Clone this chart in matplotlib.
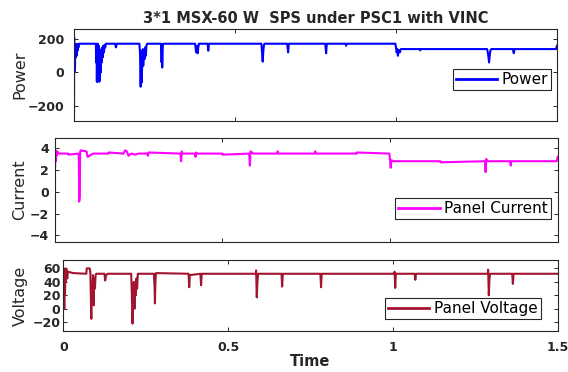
import matplotlib
matplotlib.use("Agg")
import matplotlib.pyplot as plt

# ---------------- data ----------------
power_t = [0.000, 0.0005, 0.001, 0.002, 0.003, 0.004, 0.005, 0.006, 0.008, 0.009, 0.011, 0.012, 0.014, 0.015,
           0.066, 0.068, 0.069, 0.070, 0.071, 0.072, 0.073, 0.074, 0.075, 0.077, 0.078, 0.079, 0.080, 0.082,
           0.083, 0.085, 0.086, 0.088, 0.089, 0.091, 0.093, 0.095, 0.097, 0.099,
           0.128, 0.130, 0.133,
           0.203, 0.205, 0.207, 0.209, 0.210, 0.212, 0.214, 0.215, 0.217, 0.219, 0.221, 0.223, 0.225, 0.227,
           0.271, 0.272, 0.273, 0.274, 0.275, 0.276, 0.278,
           0.376, 0.378, 0.380, 0.382, 0.384, 0.386, 0.388,
           0.415, 0.417, 0.419,
           0.582, 0.584, 0.586, 0.588, 0.590, 0.592,
           0.662, 0.664, 0.665, 0.667,
           0.780, 0.782, 0.783, 0.785,
           0.843, 0.845, 0.847,
           0.998, 1.000, 1.002, 1.004, 1.006, 1.008, 1.012, 1.015,
           1.073, 1.075, 1.077,
           1.283, 1.286, 1.288, 1.289, 1.291, 1.293, 1.296,
           1.363, 1.365, 1.366, 1.368,
           1.497, 1.4985, 1.500]
power_v = [-240, 210, 0, 170, 20, 170, 90, 170, 100, 170, 130, 170, 150, 172,
           172, 170, 60, 172, -55, 100, -55, 172, 20, 160, -55, 80, -50, 120,
           0, 140, 60, 150, 90, 160, 120, 165, 150, 172,
           172, 150, 172,
           172, 120, -85, 130, -60, 60, 140, 40, 130, 80, 150, 100, 160, 172,
           172, 60, 170, 30, 120, 165, 172,
           172, 140, 120, 160, 115, 150, 172,
           172, 130, 172,
           172, 120, 65, 130, 165, 172,
           172, 140, 120, 172,
           172, 140, 115, 172,
           172, 160, 172,
           172, 150, 120, 140, 100, 135, 120, 140,
           140, 132, 140,
           140, 110, 80, 60, 100, 130, 140,
           140, 120, 115, 140,
           140, 150, 160]

current_t = [0.000, 0.0005, 0.001, 0.002, 0.003, 0.004, 0.006, 0.008, 0.010,
             0.040, 0.041, 0.070, 0.072, 0.073, 0.0745, 0.076, 0.078, 0.085, 0.095, 0.098, 0.102, 0.108, 0.115,
             0.160, 0.161, 0.205, 0.210, 0.215, 0.220, 0.228, 0.240, 0.250, 0.276, 0.278, 0.280,
             0.375, 0.377, 0.379, 0.381, 0.418, 0.420, 0.422, 0.424,
             0.500, 0.501, 0.580, 0.582, 0.584, 0.588, 0.592,
             0.663, 0.665, 0.667, 0.775, 0.777, 0.779, 0.900, 0.901,
             0.998, 1.000, 1.002, 1.004, 1.010, 1.150, 1.151,
             1.283, 1.285, 1.287, 1.290, 1.358, 1.360, 1.362, 1.497, 1.500]
current_v = [-3.7, 3.8, 2.2, 3.8, 2.8, 3.7, 3.3, 3.7, 3.5,
             3.5, 3.4, 3.5, 3.3, -0.9, -0.5, 3.7, 3.8, 3.75, 3.7, 3.2, 3.25, 3.4, 3.5,
             3.5, 3.6, 3.5, 3.8, 3.7, 3.3, 3.5, 3.4, 3.5, 3.5, 3.3, 3.6,
             3.5, 2.8, 3.7, 3.5, 3.5, 3.2, 3.6, 3.5,
             3.5, 3.4, 3.5, 2.4, 3.7, 3.6, 3.5,
             3.5, 3.7, 3.5, 3.5, 3.7, 3.5, 3.5, 3.6,
             3.5, 2.9, 2.2, 2.9, 2.8, 2.8, 2.7,
             2.8, 1.8, 3.0, 2.8, 2.8, 2.4, 2.8, 2.8, 3.2]

voltage_t = [0.000, 0.001, 0.003, 0.004, 0.005, 0.007, 0.008, 0.010, 0.012, 0.014, 0.030, 0.070,
             0.071, 0.080, 0.082, 0.085, 0.086, 0.088, 0.090, 0.092, 0.094, 0.096, 0.098, 0.100,
             0.125, 0.127, 0.130, 0.135,
             0.206, 0.208, 0.210, 0.212, 0.214, 0.216, 0.218, 0.220, 0.222, 0.224, 0.226,
             0.275, 0.277, 0.278, 0.2795, 0.281,
             0.380, 0.382, 0.384, 0.416, 0.418, 0.420,
             0.584, 0.585, 0.587, 0.589, 0.591,
             0.662, 0.664, 0.666, 0.780, 0.782, 0.784,
             1.004, 1.005, 1.007, 1.009, 1.066, 1.068, 1.070,
             1.288, 1.289, 1.291, 1.293, 1.295, 1.362, 1.364, 1.366, 1.500]
voltage_v = [60, 58, 0, 55, 20, 60, 40, 58, 45, 55, 53, 52,
             60, 60, 55, -15, 40, 10, 50, 5, 45, 30, 50, 52,
             52, 42, 50, 52,
             52, 20, -22, 10, 40, 0, 35, 20, 45, 30, 52,
             52, 30, 8, 40, 53,
             52, 32, 50, 52, 35, 52,
             52, 57, 17, 40, 52,
             52, 33, 52, 52, 32, 52,
             52, 55, 31, 52, 52, 43, 52,
             52, 58, 20, 45, 52, 52, 37, 52, 52]

title_text = "3*1 MSX-60 W  SPS under PSC1 with VINC"
x_ticks = [0, 0.5, 1, 1.5]
x_ticklabels = ["0", "0.5", "1", "1.5"]
power_ticks = [-200, 0, 200]
current_ticks = [-4, -2, 0, 2, 4]
voltage_ticks = [-20, 0, 20, 40, 60]

# ---------------- figure ----------------
plt.rcParams['font.family'] = ['DejaVu Sans']
W, H = 568, 372
fig = plt.figure(figsize=(W / 100, H / 100), dpi=100)

def fx(px):
    return px / W

def fy(py):
    return 1 - py / H

axc = '#262626'

def make_axes(l, r, t, b):
    return fig.add_axes([fx(l), fy(b), fx(r) - fx(l), fy(t) - fy(b)])

ax1 = make_axes(74, 557, 29, 121)
ax2 = make_axes(54.7, 557.7, 138.3, 242)
ax3 = make_axes(63.3, 557.7, 260.3, 331)

ax1.plot(power_t, power_v, color='#0000ff', lw=1.5, label='Power')
ax2.plot(current_t, current_v, color='#ff00ff', lw=1.5, label='Panel Current')
ax3.plot(voltage_t, voltage_v, color='#a2142f', lw=1.5, label='Panel Voltage')

ax1.set_ylim(-290, 260)
ax2.set_ylim(-4.6, 4.9)
ax3.set_ylim(-33, 72)
ax1.set_yticks(power_ticks)
ax2.set_yticks(current_ticks)
ax3.set_yticks(voltage_ticks)

ypads = [7.0, 4.0, 2.0]
for ax, yp in zip([ax1, ax2, ax3], ypads):
    ax.set_xlim(0, 1.5)
    ax.set_xticks(x_ticks)
    ax.tick_params(direction='in', top=True, right=True, length=3, width=0.7,
                   colors=axc, labelsize=9)
    ax.tick_params(axis='y', pad=yp)
    ax.tick_params(axis='x', pad=7)
    for lab in ax.get_yticklabels():
        lab.set_fontweight('bold')
    for s in ax.spines.values():
        s.set_color(axc)
        s.set_linewidth(0.8)

ax1.set_xticklabels([])
ax2.set_xticklabels([])
ax3.set_xticklabels(x_ticklabels, fontweight='bold')
ax3.xaxis.get_ticklabels()[-1].set_clip_on(False)

fig.text(fx(315.5), fy(18.5), title_text, ha='center', va='center',
         fontsize=10.5, fontweight='bold', color=axc)
fig.text(fx(310.5), fy(362), 'Time', ha='center', va='center',
         fontsize=10.5, fontweight='bold', color=axc)

fig.text(fx(20), fy(75), 'Power', rotation=90, ha='center', va='center', fontsize=11.5, color=axc)
fig.text(fx(19.5), fy(190), 'Current', rotation=90, ha='center', va='center', fontsize=11.5, color=axc)
fig.text(fx(20), fy(296), 'Voltage', rotation=90, ha='center', va='center', fontsize=11.5, color=axc)

def add_legend(ax, right, top):
    leg = ax.legend(loc='upper right', bbox_to_anchor=(fx(right), fy(top)),
                    bbox_transform=fig.transFigure, borderaxespad=0, fancybox=False,
                    framealpha=1, edgecolor='#262626', fontsize=11, handlelength=2.7,
                    handletextpad=0.3, borderpad=0.2)
    leg.get_frame().set_linewidth(0.8)
    for line in leg.get_lines():
        line.set_linewidth(2)
    return leg

add_legend(ax1, 551, 69)
add_legend(ax2, 551, 198)
add_legend(ax3, 540.6, 298)

fig.savefig('out.png', dpi=100)
